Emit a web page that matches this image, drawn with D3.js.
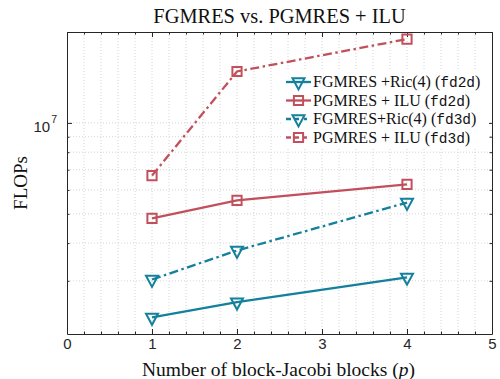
<!DOCTYPE html>
<html>
<head>
<meta charset="utf-8">
<script src="https://cdn.jsdelivr.net/npm/d3@7"></script>
<style>
  html, body { margin: 0; padding: 0; background: #fff; }
  svg { display: block; }
</style>
</head>
<body>
<svg id="chart" width="500" height="379"></svg>
<script>
// Number of block-Jacobi blocks
const blocks = [1, 2, 4];
// FLOP counts per solver / test problem
const ricFd2d = [2.27e6, 2.55e6, 3.08e6];
const iluFd2d = [4.83e6, 5.54e6, 6.26e6];
const ricFd3d = [3.03e6, 3.78e6, 5.45e6];
const iluFd3d = [6.69e6, 1.48e7, 1.895e7];

const xTicks = [0, 1, 2, 3, 4, 5];
const yTicks = [1e7];
const yMinor = [3e6, 4e6, 5e6, 6e6, 7e6, 8e6, 9e6];

const legendLabels = [
  ["FGMRES +Ric(4) ", "fd2d"],
  ["PGMRES + ILU ", "fd2d"],
  ["FGMRES+Ric(4) ", "fd3d"],
  ["PGMRES + ILU ", "fd3d"]
];

const titleText = "FGMRES vs. PGMRES + ILU";
const xLabelText = "Number of block-Jacobi blocks (";
const yLabelText = "FLOPs";

const TEAL = "#13819c";
const RED = "#c2505c";
const AXIS = "#262626";
const GRID = "#d4d4d4";
const SERIF = "'Liberation Serif', 'DejaVu Serif', serif";
const MONO = "'Liberation Mono', 'DejaVu Sans Mono', monospace";
const SANS = "'Liberation Sans', Arial, sans-serif";
const DASHDOT = "9,3.5,2.5,3.5";

const series = [
  { values: ricFd2d, color: TEAL, dash: null, marker: "tri" },
  { values: iluFd2d, color: RED, dash: null, marker: "sq" },
  { values: ricFd3d, color: TEAL, dash: DASHDOT, marker: "tri" },
  { values: iluFd3d, color: RED, dash: DASHDOT, marker: "sq" }
];

const svg = d3.select("#chart");
const L = 67, R = 492, T = 32, B = 334;

const x = d3.scaleLinear().domain([0, 5]).range([L, R]);
const y = d3.scaleLog().domain([2e6, 2e7]).range([B, T]);

// grid
const grid = svg.append("g");
const xGrid = d3.range(1, 25).map(i => i * 0.2);
grid.selectAll("line.gx").data(xGrid).join("line")
  .attr("x1", d => x(d)).attr("x2", d => x(d))
  .attr("y1", T).attr("y2", B)
  .attr("stroke", GRID).attr("stroke-width", 1)
  .attr("stroke-dasharray", "1,2");
grid.selectAll("line.gy").data(yMinor.concat(yTicks)).join("line")
  .attr("x1", L).attr("x2", R)
  .attr("y1", d => y(d)).attr("y2", d => y(d))
  .attr("stroke", GRID).attr("stroke-width", 1)
  .attr("stroke-dasharray", "1,2");

// axes
function styleAxis(g) {
  g.select(".domain").attr("stroke", AXIS).attr("stroke-width", 1);
  g.selectAll(".tick line").attr("stroke", AXIS).attr("stroke-width", 1);
  g.selectAll(".tick text").attr("fill", AXIS);
}
const xMinorVals = d3.range(1, 25).map(i => +(i * 0.2).toFixed(1)).filter(v => Math.abs(v - Math.round(v)) > 1e-6);

const xAxis = svg.append("g").attr("transform", `translate(0,${B})`)
  .call(d3.axisBottom(x).tickValues(xTicks).tickFormat(d3.format("d"))
    .tickSizeInner(-5).tickSizeOuter(0).tickPadding(4))
  .call(styleAxis);
xAxis.selectAll(".tick text").attr("font-family", SANS).attr("font-size", 15);

svg.append("g").attr("transform", `translate(0,${B})`)
  .call(d3.axisBottom(x).tickValues(xMinorVals).tickFormat("").tickSizeInner(-2.5).tickSizeOuter(0))
  .call(styleAxis).select(".domain").remove();

svg.append("g").attr("transform", `translate(0,${T})`)
  .call(d3.axisTop(x).tickValues(xTicks).tickFormat("").tickSizeInner(-5).tickSizeOuter(0))
  .call(styleAxis);
svg.append("g").attr("transform", `translate(0,${T})`)
  .call(d3.axisTop(x).tickValues(xMinorVals).tickFormat("").tickSizeInner(-2.5).tickSizeOuter(0))
  .call(styleAxis).select(".domain").remove();

const yAxis = svg.append("g").attr("transform", `translate(${L},0)`)
  .call(d3.axisLeft(y).tickValues(yTicks).tickFormat("").tickSizeInner(-5).tickSizeOuter(0))
  .call(styleAxis);
yAxis.selectAll(".tick").each(function(d) {
  const t = d3.select(this).select("text");
  const exp = Math.round(Math.log10(d));
  t.attr("font-family", SANS).attr("font-size", 15).attr("text-anchor", "end")
    .attr("x", -10).attr("dy", "0.6em");
  t.append("tspan").text("10");
  t.append("tspan").attr("font-size", 10.5).attr("dy", "-0.85em").attr("dx", "1").text(exp);
});
svg.append("g").attr("transform", `translate(${L},0)`)
  .call(d3.axisLeft(y).tickValues(yMinor).tickFormat("").tickSizeInner(-2.5).tickSizeOuter(0))
  .call(styleAxis).select(".domain").remove();

svg.append("g").attr("transform", `translate(${R},0)`)
  .call(d3.axisRight(y).tickValues(yTicks).tickFormat("").tickSizeInner(-5).tickSizeOuter(0))
  .call(styleAxis);
svg.append("g").attr("transform", `translate(${R},0)`)
  .call(d3.axisRight(y).tickValues(yMinor).tickFormat("").tickSizeInner(-2.5).tickSizeOuter(0))
  .call(styleAxis).select(".domain").remove();

// markers
const triPath = "M-6,-3.7L6,-3.7L0,7.4Z";
const sqPath = "M-4.6,-4.6L4.6,-4.6L4.6,4.6L-4.6,4.6Z";
function drawMarker(g, type, color) {
  g.append("path").attr("d", type === "tri" ? triPath : sqPath)
    .attr("fill", "none").attr("stroke", color).attr("stroke-width", 2)
    .attr("stroke-linejoin", "miter");
}

// lines
const line = d3.line().x((d, i) => x(blocks[i])).y(d => y(d));
const plot = svg.append("g");
series.forEach(s => {
  plot.append("path").datum(s.values)
    .attr("d", line).attr("fill", "none")
    .attr("stroke", s.color).attr("stroke-width", 2.3)
    .attr("stroke-dasharray", s.dash);
  s.values.forEach((v, i) => {
    const g = plot.append("g").attr("transform", `translate(${x(blocks[i])},${y(v)})`);
    drawMarker(g, s.marker, s.color);
  });
});

// legend
const leg = svg.append("g");
leg.append("rect").attr("x", 283).attr("y", 71).attr("width", 206).attr("height", 77).attr("fill", "#fff");
const rowY = [82, 100.5, 119, 137.5];
series.forEach((s, i) => {
  const g = leg.append("g").attr("transform", `translate(0,${rowY[i]})`);
  g.append("line").attr("x1", 286).attr("x2", 311).attr("y1", 0).attr("y2", 0)
    .attr("stroke", s.color).attr("stroke-width", 2.3)
    .attr("stroke-dasharray", s.dash ? "5,3,5" : null);
  const m = g.append("g").attr("transform", `translate(298.5,0)`);
  drawMarker(m, s.marker, s.color);
  const t = g.append("text").attr("x", 313).attr("y", 5)
    .attr("font-family", SERIF).attr("font-size", 16).attr("fill", "#111");
  t.append("tspan").text(legendLabels[i][0] + "(");
  t.append("tspan").attr("font-family", MONO).attr("font-size", 14.5).text(legendLabels[i][1]);
  t.append("tspan").text(")");
});

// title and labels
svg.append("text").attr("x", (L + R) / 2).attr("y", 22.5)
  .attr("text-anchor", "middle").attr("font-family", SERIF).attr("font-size", 20.4)
  .attr("fill", "#111").text(titleText);

const xl = svg.append("text").attr("x", (L + R) / 2 - 1).attr("y", 375.5)
  .attr("text-anchor", "middle").attr("font-family", SERIF).attr("font-size", 19.5)
  .attr("fill", "#111");
xl.append("tspan").text(xLabelText);
xl.append("tspan").attr("font-style", "italic").text("p");
xl.append("tspan").text(")");

svg.append("text").attr("transform", `translate(27,${(T + B) / 2}) rotate(-90)`)
  .attr("text-anchor", "middle").attr("font-family", SERIF).attr("font-size", 19)
  .attr("fill", "#111").text(yLabelText);
</script>
</body>
</html>
